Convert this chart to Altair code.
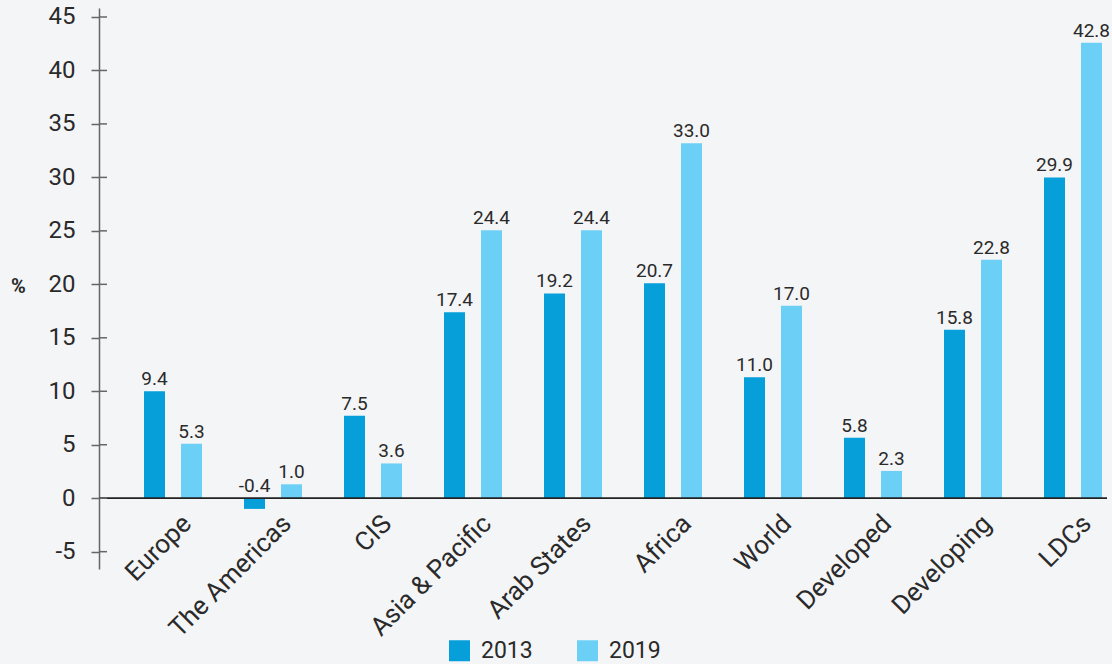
import altair as alt
import pandas as pd

categories = ["Europe", "The Americas", "CIS", "Asia & Pacific", "Arab States",
              "Africa", "World", "Developed", "Developing", "LDCs"]
years = ["2013", "2019"]
# bar heights as drawn in the reference
bars_2013 = [10.0, -1.0, 7.7, 17.4, 19.15, 20.1, 11.3, 5.65, 15.75, 30.0]
bars_2019 = [5.1, 1.3, 3.25, 25.05, 25.05, 33.2, 18.0, 2.55, 22.3, 42.6]
# value labels as printed in the reference
labels_2013 = ["9.4", "-0.4", "7.5", "17.4", "19.2", "20.7", "11.0", "5.8", "15.8", "29.9"]
labels_2019 = ["5.3", "1.0", "3.6", "24.4", "24.4", "33.0", "17.0", "2.3", "22.8", "42.8"]
y_ticks = [-5, 0, 5, 10, 15, 20, 25, 30, 35, 40, 45]

rows = []
for i, c in enumerate(categories):
    rows.append({"cat": c, "year": "2013", "v": bars_2013[i], "lab": labels_2013[i]})
    rows.append({"cat": c, "year": "2019", "v": bars_2019[i], "lab": labels_2019[i]})
df = pd.DataFrame(rows)
df["ly"] = df["v"].clip(lower=0)

FONT = "Roboto"
C2013 = "#069fda"
C2019 = "#6ccff6"
AXIS_GRAY = "#666666"
TEXT = "#2a2a2a"

x_enc = alt.X("cat:N", sort=categories, title=None,
              scale=alt.Scale(paddingInner=0.42, paddingOuter=0.25, align=0.9),
              axis=alt.Axis(orient="bottom", offset=-71, domain=False, ticks=False,
                            labelAngle=-45, labelAlign="right", labelBaseline="top",
                            labelPadding=12, labelOffset=5, labelFont=FONT,
                            labelFontSize=26, labelColor=TEXT, labelOverlap=False,
                            labelBound=False, labelFlush=False))
xo_enc = alt.XOffset("year:N", sort=years,
                     scale=alt.Scale(paddingInner=0.432, paddingOuter=0))
y_scale = alt.Scale(domain=[-6.62, 45.84], nice=False, zero=False)

bars = alt.Chart(df).mark_bar().encode(
    x=x_enc,
    xOffset=xo_enc,
    y=alt.Y("v:Q", scale=y_scale, title="%",
            axis=alt.Axis(values=y_ticks, grid=False, domainColor=AXIS_GRAY,
                          domainWidth=1.5, tickColor=AXIS_GRAY, tickWidth=1.5,
                          tickSize=8, labelPadding=16, labelFont=FONT,
                          labelFontSize=24, labelColor=TEXT,
                          labelExpr="toString(datum.value)",
                          titleFont=FONT, titleFontSize=20, titleFontWeight="bold",
                          titleColor=TEXT, titleAngle=0, titleX=-81, titleY=278,
                          titleAlign="center", titleBaseline="middle")),
    color=alt.Color("year:N", sort=years,
                    scale=alt.Scale(domain=years, range=[C2013, C2019]),
                    legend=alt.Legend(title=None, orient="none", legendX=349,
                                      legendY=631, direction="horizontal",
                                      symbolType="square", symbolSize=441,
                                      symbolStrokeWidth=0, labelFont=FONT,
                                      labelFontSize=23, labelColor=TEXT,
                                      labelOffset=10, columnPadding=43, padding=0)),
)

texts = alt.Chart(df).mark_text(font=FONT, fontSize=19, color=TEXT,
                                baseline="alphabetic", dy=-6).encode(
    x=alt.X("cat:N", sort=categories),
    xOffset=alt.XOffset("year:N", sort=years),
    y=alt.Y("ly:Q"),
    text="lab:N",
)

zero_df = pd.DataFrame({"z": [0]})
zero_line = alt.Chart(zero_df).mark_rule(color="#222222", strokeWidth=1.8).encode(
    y="z:Q"
)

tick_df = pd.DataFrame({"t": y_ticks})
inner_ticks = alt.Chart(tick_df).mark_rule(color=AXIS_GRAY, strokeWidth=1.5).encode(
    y="t:Q", x=alt.value(0), x2=alt.value(8)
)

chart = alt.layer(bars, zero_line, inner_ticks, texts).properties(
    width=1008, height=561,
    autosize=alt.AutoSizeParams(type="none"),
    padding={"left": 99, "top": 8, "right": 5, "bottom": 95},
    background="#f4f5f7",
).configure_view(stroke=None)

chart.save("out.html", embed_options={"renderer": "svg", "actions": False})
